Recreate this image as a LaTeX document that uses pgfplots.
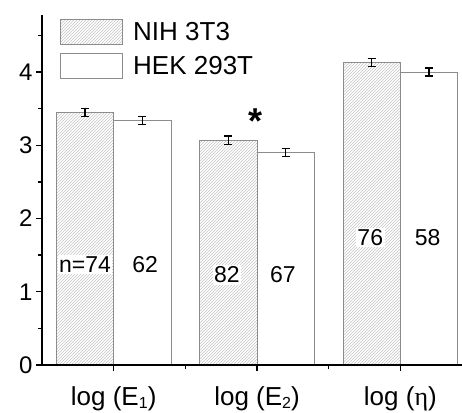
\documentclass[border=0pt]{standalone}
\usepackage{pgfplots}
\pgfplotsset{compat=1.18}
\usepackage{pgfplotstable}
\usepackage{fontspec}
\setmainfont{Liberation Sans}
\newfontfamily\serifgreek{Liberation Serif}
\usetikzlibrary{patterns}
\newcommand{\lowsub}[1]{\raisebox{-3.5pt}{\fontsize{16}{18}\selectfont #1}}

\pgfplotstableread{
x y e
1 3.45 0.055
2 3.07 0.055
3 4.13 0.055
}\nih
\pgfplotstableread{
x y e
1 3.34 0.055
2 2.90 0.055
3 4.00 0.055
}\hek

\begin{document}
\begin{tikzpicture}
\begin{axis}[
  at={(0,0)}, anchor=south west,
  scale only axis, width=420pt, height=350pt,
  xmin=0.5, xmax=3.43, ymin=0, ymax=4.78,
  axis on top,
  axis x line*=bottom, axis y line*=left,
  axis line style={line width=1.6pt, black},
  xtick={1,2,3},
  xticklabels={log (E\lowsub{1}), log (E\lowsub{2}), log ({\serifgreek η})},
  minor xtick={1.5,2.5},
  ytick={0,1,2,3,4}, minor ytick={0.5,1.5,2.5,3.5,4.5},
  tick align=outside,
  major tick length=6pt, minor tick length=4pt,
  every tick/.style={black, line width=1.4pt},
  /pgf/number format/assume math mode=true,
  yticklabel style={font=\fontsize{24}{26}\selectfont},
  xticklabel style={font=\fontsize{26}{28}\selectfont, yshift=-12pt, anchor=north, text depth=0pt},
  legend style={at={(rel axis cs:0,1)}, anchor=north west, draw=none, fill=none,
    font=\fontsize{26}{28}\selectfont, row sep=8pt, xshift=15pt, yshift=-2pt},
  legend cell align=left,
  legend image code/.code={\draw[#1] (0pt,-12.5pt) rectangle (62pt,12.5pt); \path (70pt,0pt);},
]
\addplot[ybar, bar width=0.4, bar shift=-0.2, draw=gray!90, line width=1pt,
  pattern=north east lines, pattern color=gray!45]
  table[x=x, y=y] {\nih};
\addlegendentry{NIH 3T3}
\addplot[ybar, bar width=0.4, bar shift=0.2, draw=gray!90, line width=1pt, fill=white]
  table[x=x, y=y] {\hek};
\addlegendentry{HEK 293T}
\addplot[draw=none, mark=none, forget plot,
  error bars/.cd, y dir=both, y explicit,
  error bar style={draw=black, line width=1.2pt},
  error mark options={draw=black, mark size=4pt, line width=1.4pt, rotate=90}]
  table[x expr=\thisrow{x}-0.2, y=y, y error=e] {\nih};
\addplot[draw=none, mark=none, forget plot,
  error bars/.cd, y dir=both, y explicit,
  error bar style={draw=black, line width=1.2pt},
  error mark options={draw=black, mark size=4pt, line width=1.4pt, rotate=90}]
  table[x expr=\thisrow{x}+0.2, y=y, y error=e] {\hek};
\begin{scope}[every node/.style={fill=white, inner sep=1.5pt, font=\fontsize{23}{25}\selectfont}]
\node at (axis cs:0.80,1.37) {n=74};
\node at (axis cs:1.22,1.37) {62};
\node at (axis cs:1.79,1.23) {82};
\node at (axis cs:2.18,1.23) {67};
\node at (axis cs:2.79,1.74) {76};
\node at (axis cs:3.19,1.74) {58};
\end{scope}
\node[anchor=base, font=\fontsize{36}{38}\selectfont\bfseries] at (axis cs:1.99,3.16) {*};
\end{axis}
\pgfresetboundingbox
\path (-42pt,-47pt) rectangle (420pt,365pt);
\end{tikzpicture}
\end{document}
